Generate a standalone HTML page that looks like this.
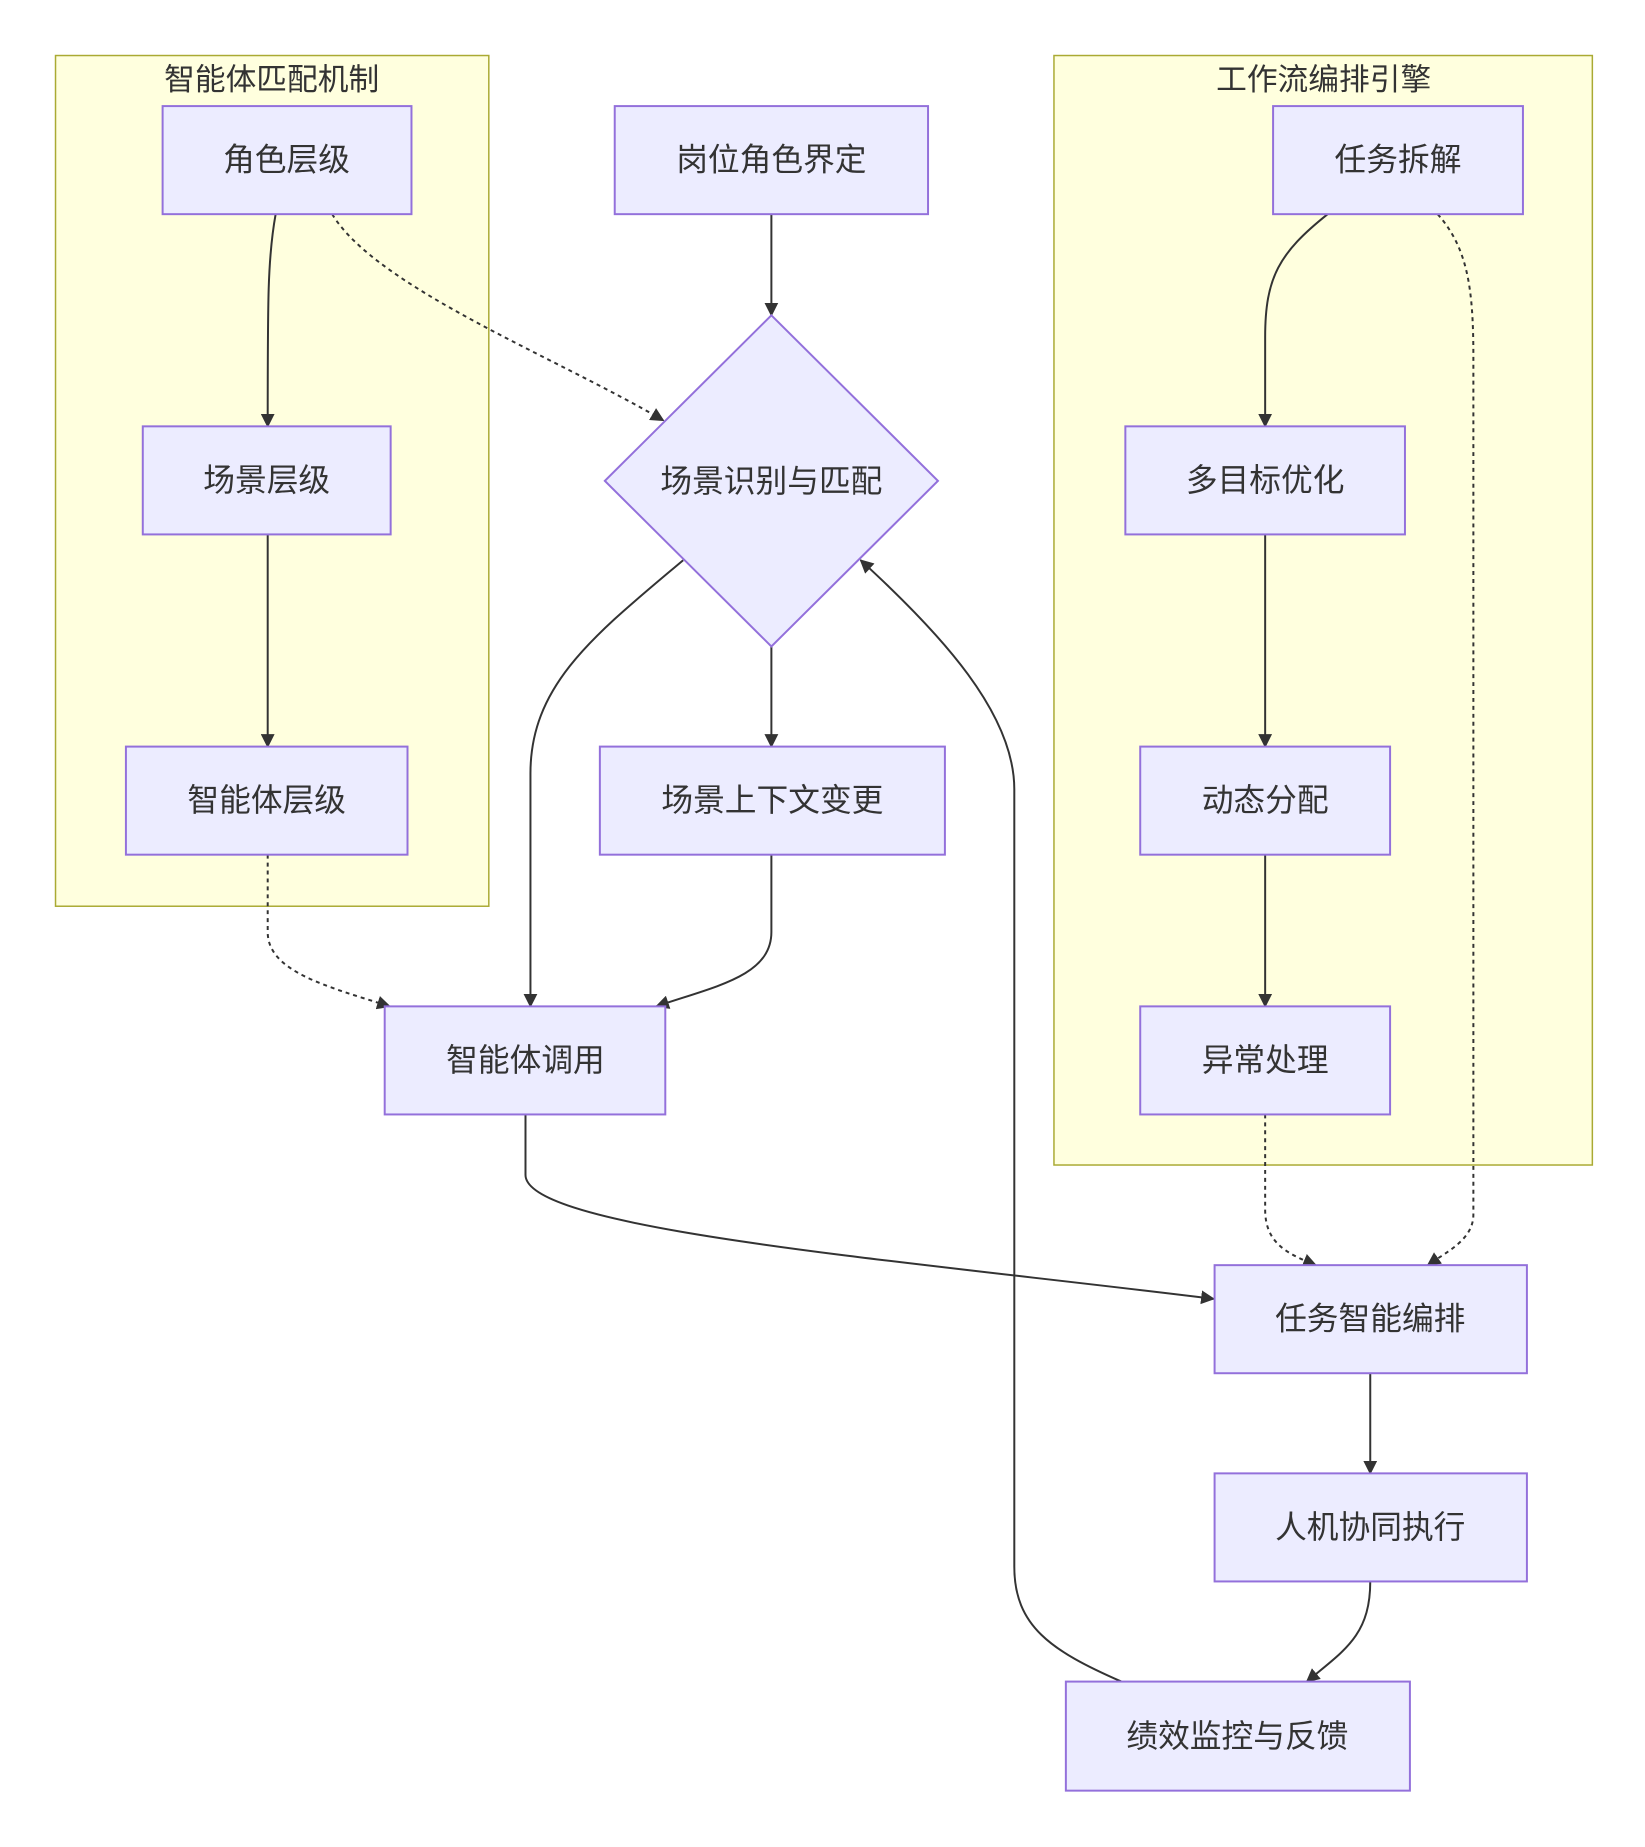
<!DOCTYPE html>
<html><head><meta charset="utf-8"><style>
html,body{margin:0;padding:0;background:#fff;}
svg text{font-family:"Liberation Sans","Noto Sans CJK SC",sans-serif;fill:#333;}
</style></head><body>
<svg width="1645" height="1842" viewBox="0 0 1645 1842" xmlns="http://www.w3.org/2000/svg">
<defs>
<marker id="b" viewBox="0 0 10 10" refX="9" refY="5" markerWidth="14" markerHeight="14" orient="auto" markerUnits="userSpaceOnUse"><path d="M0,0 L10,5 L0,10 z" fill="#333"/></marker>
</defs>
<g transform="scale(0.9915)">
<rect x="56" y="56" width="437" height="858" fill="#ffffde" stroke="#aaaa33" stroke-width="1.5"/>
<rect x="1063" y="56" width="543" height="1119" fill="#ffffde" stroke="#aaaa33" stroke-width="1.5"/>
<text x="274" y="91" font-size="31" text-anchor="middle">智能体匹配机制</text>
<text x="1335" y="91" font-size="31" text-anchor="middle">工作流编排引擎</text>

<g fill="none" stroke="#333" stroke-width="2" marker-end="url(#b)">
<path d="M278,216 C270,260 270,300 270,430"/>
<path d="M335,216 C380,290 560,360 669,424" stroke-dasharray="4,4"/>
<path d="M270,539 L270,753"/>
<path d="M270,862 L270,940 C270,980 330,995 393,1015" stroke-dasharray="4,4"/>
<path d="M778,216 L778,318"/>
<path d="M778,652 L778,753"/>
<path d="M689,565 C600,640 535,690 535,780 L535,1015"/>
<path d="M778,862 L778,940 C778,985 720,995 662,1015"/>
<path d="M530,1124 L530,1185 C530,1240 900,1270 1224,1310"/>
<path d="M1131,1696 C1060,1665 1023,1640 1023,1580 L1023,796 C1023,720 950,640 868,565"/>
<path d="M1339,216 C1290,255 1276,280 1276,340 L1276,430"/>
<path d="M1276,539 L1276,753"/>
<path d="M1276,862 L1276,1015"/>
<path d="M1276,1124 L1276,1220 C1276,1255 1300,1265 1327,1276" stroke-dasharray="4,4"/>
<path d="M1450,216 C1480,250 1486,290 1486,360 L1486,1225 C1486,1250 1460,1262 1440,1276" stroke-dasharray="4,4"/>
<path d="M1382,1385 L1382,1486"/>
<path d="M1382,1595 C1382,1650 1355,1665 1318,1696"/>
</g>

<g fill="#ececff" stroke="#9370db" stroke-width="2">
<rect x="164" y="107" width="251" height="109"/>
<rect x="144" y="430" width="250" height="109"/>
<rect x="127" y="753" width="284" height="109"/>
<rect x="620" y="107" width="316" height="109"/>
<polygon points="778,318 946,485 778,652 610,485"/>
<rect x="605" y="753" width="348" height="109"/>
<rect x="388" y="1015" width="283" height="109"/>
<rect x="1284" y="107" width="252" height="109"/>
<rect x="1135" y="430" width="282" height="109"/>
<rect x="1150" y="753" width="252" height="109"/>
<rect x="1150" y="1015" width="252" height="109"/>
<rect x="1225" y="1276" width="315" height="109"/>
<rect x="1225" y="1486" width="315" height="109"/>
<rect x="1075" y="1696" width="347" height="110"/>
</g>
<g font-size="32" text-anchor="middle" dominant-baseline="central">
<text x="289" y="161">角色层级</text>
<text x="269" y="484">场景层级</text>
<text x="269" y="807">智能体层级</text>
<text x="778" y="161">岗位角色界定</text>
<text x="778" y="485">场景识别与匹配</text>
<text x="779" y="807">场景上下文变更</text>
<text x="530" y="1069">智能体调用</text>
<text x="1410" y="161">任务拆解</text>
<text x="1276" y="484">多目标优化</text>
<text x="1276" y="807">动态分配</text>
<text x="1276" y="1069">异常处理</text>
<text x="1382" y="1330">任务智能编排</text>
<text x="1382" y="1540">人机协同执行</text>
<text x="1248" y="1751">绩效监控与反馈</text>
</g>
</g>
</svg>
</body></html>
